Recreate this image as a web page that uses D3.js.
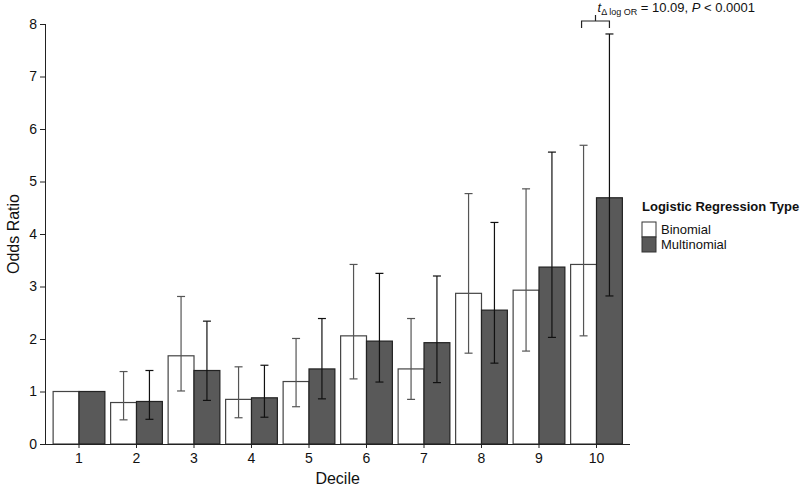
<!DOCTYPE html>
<html>
<head>
<meta charset="utf-8">
<script src="https://cdn.jsdelivr.net/npm/d3@7"></script>
<style>
  body { margin: 0; background: #fff; }
  text { font-family: "Liberation Sans", Arial, sans-serif; }
</style>
</head>
<body>
<script>
const deciles = ['1', '2', '3', '4', '5', '6', '7', '8', '9', '10'];
const binomialOR = [1, 0.79, 1.68, 0.85, 1.19, 2.06, 1.43, 2.87, 2.93, 3.42];
const binomialLo = [null, 0.46, 1.01, 0.50, 0.71, 1.24, 0.85, 1.73, 1.77, 2.06];
const binomialHi = [null, 1.38, 2.81, 1.47, 2.01, 3.42, 2.39, 4.77, 4.86, 5.69];
const multinomialOR = [1, 0.81, 1.40, 0.88, 1.43, 1.96, 1.93, 2.55, 3.37, 4.69];
const multinomialLo = [null, 0.47, 0.83, 0.51, 0.86, 1.18, 1.17, 1.54, 2.03, 2.82];
const multinomialHi = [null, 1.40, 2.34, 1.50, 2.39, 3.25, 3.20, 4.22, 5.56, 7.81];
const yTicks = [0, 1, 2, 3, 4, 5, 6, 7, 8];
const types = ['Binomial', 'Multinomial'];

const width = 800, height = 488;
const svg = d3.select('body').append('svg')
  .attr('width', width)
  .attr('height', height);

const x = d3.scaleBand()
  .domain(deciles)
  .range([50.25, 625.25])
  .paddingInner(0.1)
  .paddingOuter(0.05);

const xSub = d3.scaleBand()
  .domain(types)
  .range([0, x.bandwidth()]);

const y = d3.scaleLinear()
  .domain([0, 8])
  .range([444, 24]);

const fills = { Binomial: '#ffffff', Multinomial: '#595959' };
const strokes = { Binomial: '#444', Multinomial: '#222' };
const errColor = { Binomial: '#555', Multinomial: '#111' };

const rows = [];
deciles.forEach((d, i) => {
  rows.push({ decile: d, type: 'Binomial', v: binomialOR[i], lo: binomialLo[i], hi: binomialHi[i] });
  rows.push({ decile: d, type: 'Multinomial', v: multinomialOR[i], lo: multinomialLo[i], hi: multinomialHi[i] });
});

// bars
svg.selectAll('.bar')
  .data(rows)
  .enter()
  .append('rect')
  .attr('class', 'bar')
  .attr('x', d => x(d.decile) + xSub(d.type))
  .attr('y', d => y(d.v))
  .attr('width', xSub.bandwidth())
  .attr('height', d => y(0) - y(d.v))
  .attr('fill', d => fills[d.type])
  .attr('stroke', d => strokes[d.type])
  .attr('stroke-width', 1.2);

// error bars
const errs = svg.append('g').selectAll('g')
  .data(rows.filter(d => d.lo !== null))
  .enter()
  .append('g')
  .attr('stroke', d => errColor[d.type])
  .attr('stroke-width', 1.2);

const cx = d => x(d.decile) + xSub(d.type) + xSub.bandwidth() / 2;
errs.append('line')
  .attr('x1', cx).attr('x2', cx)
  .attr('y1', d => y(d.lo)).attr('y2', d => y(d.hi));
errs.append('line')
  .attr('x1', d => cx(d) - 4).attr('x2', d => cx(d) + 4)
  .attr('y1', d => y(d.hi)).attr('y2', d => y(d.hi));
errs.append('line')
  .attr('x1', d => cx(d) - 4).attr('x2', d => cx(d) + 4)
  .attr('y1', d => y(d.lo)).attr('y2', d => y(d.lo));

// axes
const xAxis = svg.append('g')
  .attr('transform', `translate(0,${y(0)})`)
  .call(d3.axisBottom(x).tickSize(4).tickPadding(5));
xAxis.select('.domain').attr('d', 'M45,0.5H630');
xAxis.selectAll('text').attr('font-size', 14).attr('fill', '#111');
xAxis.selectAll('line, path').attr('stroke', '#222');

const yAxis = svg.append('g')
  .attr('transform', 'translate(45,0)')
  .call(d3.axisLeft(y).tickValues(yTicks).tickSize(5).tickPadding(3));
yAxis.select('.domain').attr('d', `M0.5,${y(8)}V${y(0)}`);
yAxis.selectAll('text').attr('font-size', 14).attr('fill', '#111');
yAxis.selectAll('line, path').attr('stroke', '#222');

svg.append('text')
  .attr('x', x('6') - 3)
  .attr('y', 484)
  .attr('text-anchor', 'middle')
  .attr('font-size', 16)
  .attr('fill', '#111')
  .text('Decile');

svg.append('text')
  .attr('transform', `translate(19,${y(4)}) rotate(-90)`)
  .attr('text-anchor', 'middle')
  .attr('font-size', 16)
  .attr('fill', '#111')
  .text('Odds Ratio');

// legend
const legend = svg.append('g').attr('transform', 'translate(642,211)');
legend.append('text')
  .attr('font-size', 13)
  .attr('font-weight', 'bold')
  .attr('fill', '#111')
  .text('Logistic Regression Type');
legend.selectAll('.lg')
  .data(types)
  .enter()
  .append('rect')
  .attr('x', 0)
  .attr('y', (d, i) => 11 + i * 15)
  .attr('width', 14)
  .attr('height', 15)
  .attr('fill', d => fills[d])
  .attr('stroke', '#333');
legend.selectAll('.lt')
  .data(types)
  .enter()
  .append('text')
  .attr('x', 19)
  .attr('y', (d, i) => 23 + i * 15)
  .attr('font-size', 13)
  .attr('fill', '#111')
  .text(d => d);

// significance bracket on decile 10
const bx1 = x('10') + xSub('Binomial') + xSub.bandwidth() / 2 - 2;
const bx2 = x('10') + xSub('Multinomial') + xSub.bandwidth() / 2;
const bmid = (bx1 + bx2) / 2;
svg.append('path')
  .attr('d', `M${bx1},28V21H${bx2}V28M${bmid},21V15`)
  .attr('fill', 'none')
  .attr('stroke', '#222')
  .attr('stroke-width', 1.2);

const label = svg.append('text')
  .attr('x', bmid + 2)
  .attr('y', 12)
  .attr('font-size', 13)
  .attr('fill', '#111');
label.append('tspan').attr('font-style', 'italic').text('t');
label.append('tspan').attr('font-size', 9).attr('dy', 3).text('\u0394 log OR');
label.append('tspan').attr('dy', -3).text(' = 10.09, ');
label.append('tspan').attr('font-style', 'italic').text('P');
label.append('tspan').text(' < 0.0001');
</script>
</body>
</html>
